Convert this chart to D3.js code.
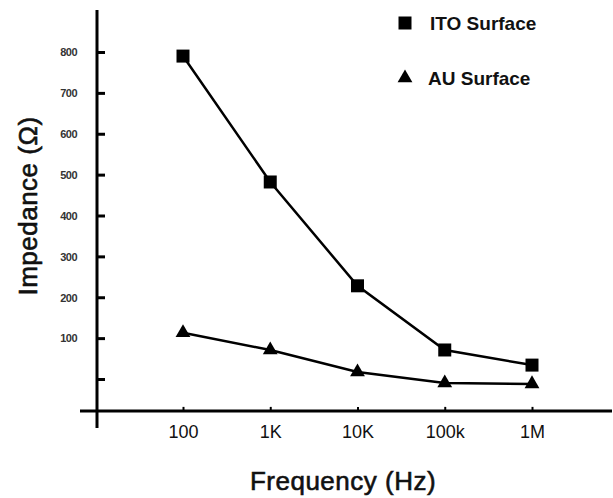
<!DOCTYPE html>
<html>
<head>
<meta charset="utf-8">
<script src="https://cdn.jsdelivr.net/npm/d3@7"></script>
<style>
  body { margin: 0; background: #fff; }
  svg { display: block; font-family: "Liberation Sans", Arial, sans-serif; }
</style>
</head>
<body>
<div id="chart"></div>
<script>
// frequencies (Hz) and tick labels
const freqs = [100, 1000, 10000, 100000, 1000000];
const freqLabels = ["100", "1K", "10K", "100k", "1M"];
const yTicks = [0, 100, 200, 300, 400, 500, 600, 700, 800];

// impedance (ohm)
const itoValues = [790, 482, 228, 71, 34];
const auValues = [113, 71, 17, -10, -12];

const width = 613, height = 498;

let svg = d3.select("#chart").append("svg")
    .attr("width", width)
    .attr("height", height);

let x = d3.scaleLog().domain([100, 1e6]).range([183, 532]);
let y = d3.scaleLinear().domain([0, 800]).range([379, 52]);

let axisX = 97;       // y axis position
let axisY = y(-78);   // x axis position

// y axis
let yAxis = svg.append("g")
    .attr("transform", `translate(${axisX},0)`)
    .call(d3.axisRight(y).tickValues(yTicks).tickSize(8)
        .tickFormat(d => d === 0 ? "" : d));
yAxis.select(".domain").remove();
yAxis.selectAll(".tick line").attr("stroke", "#000").attr("stroke-width", 3);
yAxis.selectAll(".tick text")
    .attr("x", -20)
    .attr("dy", "0.35em")
    .attr("text-anchor", "end")
    .attr("fill", "#333")
    .style("font-size", "11px")
    .style("font-weight", "bold")
    .style("letter-spacing", "-0.5px");

svg.append("line")
    .attr("x1", axisX).attr("x2", axisX)
    .attr("y1", y(903)).attr("y2", axisY + 17)
    .attr("stroke", "#000").attr("stroke-width", 3);

// x axis
let xAxis = svg.append("g")
    .attr("transform", `translate(0,${axisY})`)
    .call(d3.axisTop(x).tickValues(freqs).tickSize(4)
        .tickFormat((d, i) => freqLabels[i]));
xAxis.select(".domain").remove();
xAxis.selectAll(".tick line").attr("stroke", "#000").attr("stroke-width", 2);
xAxis.selectAll(".tick text")
    .attr("y", 27)
    .attr("dy", 0)
    .attr("fill", "#111")
    .style("font-size", "18px");

svg.append("line")
    .attr("x1", 80).attr("x2", 612)
    .attr("y1", axisY).attr("y2", axisY)
    .attr("stroke", "#000").attr("stroke-width", 3);

// axis titles (slightly heavier than regular, like the scan)
svg.append("text")
    .attr("x", 343).attr("y", 490)
    .attr("text-anchor", "middle")
    .style("font-size", "26px")
    .style("letter-spacing", "0.5px")
    .attr("fill", "#111")
    .attr("stroke", "#111").attr("stroke-width", 0.6)
    .text("Frequency (Hz)");

svg.append("text")
    .attr("transform", "translate(37,206) rotate(-90)")
    .attr("text-anchor", "middle")
    .style("font-size", "26px")
    .style("letter-spacing", "0.5px")
    .attr("fill", "#111")
    .attr("stroke", "#111").attr("stroke-width", 0.6)
    .text("Impedance (Ω)");

// series
let line = d3.line()
    .x(d => x(d[0]))
    .y(d => y(d[1]));

let series = [
    {name: "ITO Surface", values: itoValues, symbol: d3.symbolSquare, size: 169},
    {name: "AU Surface", values: auValues, symbol: d3.symbolTriangle, size: 95}
];

series.forEach(s => {
    let pts = d3.zip(freqs, s.values);
    svg.append("path")
        .attr("d", line(pts))
        .attr("fill", "none")
        .attr("stroke", "#000")
        .attr("stroke-width", 2.5);
    svg.append("g")
        .selectAll("path")
        .data(pts)
        .join("path")
            .attr("transform", d => `translate(${x(d[0])},${y(d[1])})`)
            .attr("d", d3.symbol(s.symbol, s.size))
            .attr("fill", "#000");
});

// legend
let legend = svg.append("g")
    .selectAll("g")
    .data(series)
    .join("g")
        .attr("transform", (d, i) => `translate(405,${23 + i * 55})`);
legend.append("path")
    .attr("d", d => d3.symbol(d.symbol, d.size)())
    .attr("fill", "#000");
legend.append("text")
    .attr("x", (d, i) => i === 0 ? 25 : 23)
    .attr("y", 7)
    .style("font-size", "19px")
    .style("font-weight", "bold")
    .attr("fill", "#111")
    .text(d => d.name);
</script>
</body>
</html>
